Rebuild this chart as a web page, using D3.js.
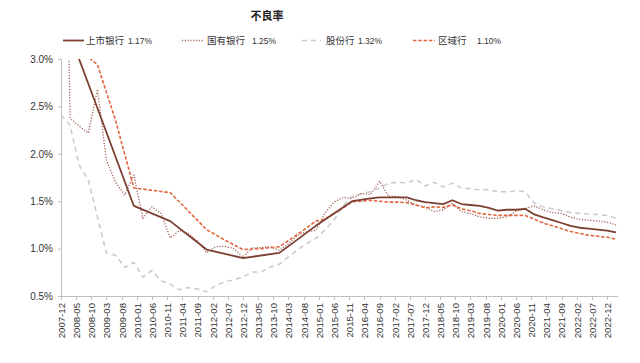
<!DOCTYPE html>
<html>
<head>
<meta charset="utf-8">
<script src="https://cdn.jsdelivr.net/npm/d3@7/dist/d3.min.js"></script>
<style>
  body { margin: 0; background: #fff; }
  svg { display: block; font-family: "Liberation Sans", Arial, "Noto Sans CJK SC", sans-serif; }
</style>
</head>
<body>
<svg id="chart" width="640" height="363"></svg>
<script>
// 不良率 (%) by quarter
var listedBanks = [
  ['2007-12', 3.51], ['2008-12', 2.48], ['2009-12', 1.45], ['2010-12', 1.29], ['2011-12', 0.99],
  ['2012-12', 0.90], ['2013-12', 0.955], ['2014-12', 1.24], ['2015-12', 1.50], ['2016-06', 1.53],
  ['2016-09', 1.54], ['2016-12', 1.54], ['2017-03', 1.54], ['2017-06', 1.54], ['2017-09', 1.51],
  ['2017-12', 1.49], ['2018-03', 1.48], ['2018-06', 1.47], ['2018-09', 1.51], ['2018-12', 1.47],
  ['2019-03', 1.46], ['2019-06', 1.45], ['2019-09', 1.43], ['2019-12', 1.40], ['2020-03', 1.41],
  ['2020-06', 1.41], ['2020-09', 1.42], ['2020-12', 1.36], ['2021-03', 1.33], ['2021-06', 1.30],
  ['2021-09', 1.27], ['2021-12', 1.24], ['2022-03', 1.22], ['2022-06', 1.21], ['2022-09', 1.20],
  ['2022-12', 1.19], ['2023-03', 1.17]
];

var stateBanks = [
  ['2007-12', 8.0], ['2008-03', 2.375], ['2008-06', 2.29], ['2008-09', 2.22], ['2008-12', 2.68],
  ['2009-03', 1.93], ['2009-06', 1.70], ['2009-09', 1.565], ['2009-12', 1.776], ['2010-03', 1.32],
  ['2010-06', 1.44], ['2010-09', 1.37], ['2010-12', 1.113], ['2011-03', 1.19], ['2011-06', 1.16],
  ['2011-09', 1.08], ['2011-12', 0.955], ['2012-03', 1.02], ['2012-06', 1.025], ['2012-09', 1.00],
  ['2012-12', 0.91], ['2013-03', 1.007], ['2013-06', 1.01], ['2013-09', 1.02], ['2013-12', 0.98],
  ['2014-03', 1.05], ['2014-06', 1.14], ['2014-09', 1.18], ['2014-12', 1.19], ['2015-03', 1.37],
  ['2015-06', 1.49], ['2015-09', 1.54], ['2015-12', 1.53], ['2016-03', 1.58], ['2016-06', 1.57],
  ['2016-09', 1.71], ['2016-12', 1.55], ['2017-03', 1.55], ['2017-06', 1.51], ['2017-09', 1.46],
  ['2017-12', 1.44], ['2018-03', 1.39], ['2018-06', 1.41], ['2018-09', 1.48], ['2018-12', 1.39],
  ['2019-03', 1.37], ['2019-06', 1.335], ['2019-09', 1.32], ['2019-12', 1.32], ['2020-03', 1.335],
  ['2020-06', 1.395], ['2020-09', 1.424], ['2020-12', 1.45], ['2021-03', 1.41], ['2021-06', 1.38],
  ['2021-09', 1.37], ['2021-12', 1.33], ['2022-03', 1.31], ['2022-06', 1.30], ['2022-09', 1.29],
  ['2022-12', 1.28], ['2023-03', 1.25]
];

var jointStockBanks = [
  ['2007-12', 2.41], ['2008-03', 2.30], ['2008-06', 1.88], ['2008-09', 1.72], ['2008-12', 1.335],
  ['2009-03', 0.95], ['2009-06', 0.93], ['2009-09', 0.80], ['2009-12', 0.855], ['2010-03', 0.70],
  ['2010-06', 0.77], ['2010-09', 0.66], ['2010-12', 0.625], ['2011-03', 0.565], ['2011-06', 0.59],
  ['2011-09', 0.575], ['2011-12', 0.545], ['2012-03', 0.613], ['2012-06', 0.648], ['2012-09', 0.673],
  ['2012-12', 0.70], ['2013-03', 0.754], ['2013-06', 0.754], ['2013-09', 0.806], ['2013-12', 0.835],
  ['2014-03', 0.912], ['2014-06', 0.99], ['2014-09', 1.054], ['2014-12', 1.107], ['2015-03', 1.195],
  ['2015-06', 1.30], ['2015-09', 1.45], ['2015-12', 1.55], ['2016-03', 1.58], ['2016-06', 1.60],
  ['2016-09', 1.64], ['2016-12', 1.69], ['2017-03', 1.70], ['2017-06', 1.69], ['2017-09', 1.73],
  ['2017-12', 1.66], ['2018-03', 1.70], ['2018-06', 1.65], ['2018-09', 1.69], ['2018-12', 1.64],
  ['2019-03', 1.63], ['2019-06', 1.62], ['2019-09', 1.62], ['2019-12', 1.60], ['2020-03', 1.60],
  ['2020-06', 1.61], ['2020-09', 1.60], ['2020-12', 1.48], ['2021-03', 1.44], ['2021-06', 1.42],
  ['2021-09', 1.40], ['2021-12', 1.38], ['2022-03', 1.37], ['2022-06', 1.365], ['2022-09', 1.36],
  ['2022-12', 1.35], ['2023-03', 1.32]
];

var regionalBanks = [
  ['2007-12', 3.26], ['2008-12', 2.94], ['2009-06', 2.35], ['2009-12', 1.64], ['2010-12', 1.59],
  ['2011-12', 1.20], ['2012-06', 1.09], ['2012-12', 0.99], ['2013-06', 1.00], ['2013-12', 1.02],
  ['2014-06', 1.15], ['2014-12', 1.29], ['2015-03', 1.31], ['2015-06', 1.37], ['2015-09', 1.43],
  ['2015-12', 1.494], ['2016-03', 1.50], ['2016-06', 1.51], ['2016-09', 1.50], ['2016-12', 1.49],
  ['2017-03', 1.49], ['2017-06', 1.485], ['2017-09', 1.46], ['2017-12', 1.43], ['2018-03', 1.44],
  ['2018-06', 1.435], ['2018-09', 1.46], ['2018-12', 1.42], ['2019-03', 1.40], ['2019-06', 1.37],
  ['2019-09', 1.36], ['2019-12', 1.35], ['2020-03', 1.35], ['2020-06', 1.35], ['2020-09', 1.35],
  ['2020-12', 1.31], ['2021-03', 1.27], ['2021-06', 1.24], ['2021-09', 1.21], ['2021-12', 1.18],
  ['2022-03', 1.16], ['2022-06', 1.14], ['2022-09', 1.13], ['2022-12', 1.12], ['2023-03', 1.10]
];

var seriesNames = ['上市银行', '国有银行', '股份行', '区域行'];
var latestValues = ['1.17%', '1.25%', '1.32%', '1.10%'];
var yTicks = [0.5, 1.0, 1.5, 2.0, 2.5, 3.0];
var xTickLabels = [
  '2007-12', '2008-05', '2008-10', '2009-03', '2009-08', '2010-01', '2010-06', '2010-11',
  '2011-04', '2011-09', '2012-02', '2012-07', '2012-12', '2013-05', '2013-10', '2014-03',
  '2014-08', '2015-01', '2015-06', '2015-11', '2016-04', '2016-09', '2017-02', '2017-07',
  '2017-12', '2018-05', '2018-10', '2019-03', '2019-08', '2020-01', '2020-06', '2020-11',
  '2021-04', '2021-09', '2022-02', '2022-07', '2022-12'
];

var parse = d3.timeParse('%Y-%m');

var styles = [
  { color: '#7e3f33', width: 1.8, dash: null },
  { color: '#a5645a', width: 1.3, dash: '1.2,1.6' },
  { color: '#c9c9c9', width: 1.5, dash: '5,4' },
  { color: '#e2663f', width: 1.6, dash: '3.5,1.8' }
];

var allSeries = [listedBanks, stateBanks, jointStockBanks, regionalBanks];

var svg = d3.select('#chart');
svg.append('rect').attr('width', 640).attr('height', 363).attr('fill', '#fff');

var x = d3.scaleTime()
  .domain([parse('2007-12'), parse('2023-03')])
  .range([61, 616]);
var y = d3.scaleLinear().domain([0.5, 3.0]).range([296, 59]);

// title
svg.append('text')
  .attr('x', 267).attr('y', 20)
  .attr('text-anchor', 'middle')
  .style('font-size', '11px').style('font-weight', 'bold').style('fill', '#222')
  .text('不良率');

// legend
var legendPos = [
  { x1: 63, x2: 84, label: 86, value: 128 },
  { x1: 182, x2: 203, label: 207, value: 252 },
  { x1: 302, x2: 321, label: 326, value: 358 },
  { x1: 413, x2: 435, label: 438, value: 477 }
];
var legend = svg.append('g').attr('class', 'legend');
legendPos.forEach(function (p, i) {
  legend.append('line')
    .attr('x1', p.x1).attr('x2', p.x2).attr('y1', 40.5).attr('y2', 40.5)
    .attr('stroke', styles[i].color)
    .attr('stroke-width', styles[i].width)
    .attr('stroke-dasharray', styles[i].dash);
  legend.append('text')
    .attr('x', p.label).attr('y', 44)
    .style('font-size', '9.5px').style('fill', '#333')
    .text(seriesNames[i]);
  legend.append('text')
    .attr('x', p.value).attr('y', 44)
    .style('font-size', '8.5px').style('fill', '#333')
    .text(latestValues[i]);
});

// y axis
var yAxis = svg.append('g')
  .attr('transform', 'translate(61,0)')
  .call(d3.axisLeft(y).tickValues(yTicks).tickSize(3).tickPadding(5)
    .tickFormat(function (d) { return d.toFixed(1) + '%'; }));
yAxis.select('.domain').attr('stroke', '#bfbfbf');
yAxis.selectAll('.tick line').attr('stroke', '#bfbfbf');
yAxis.selectAll('.tick text')
  .style('font-size', '10px').style('fill', '#333')
  .style('font-family', '"Liberation Sans", Arial, sans-serif');

// x axis
var xTickDates = xTickLabels.map(parse);
var xAxisG = svg.append('g').attr('transform', 'translate(0,296)');
xAxisG.append('line')
  .attr('x1', 61).attr('x2', 618).attr('y1', 0.5).attr('y2', 0.5)
  .attr('stroke', '#bfbfbf');
xAxisG.selectAll('.xtick').data(xTickDates).enter().append('line')
  .attr('class', 'xtick')
  .attr('x1', function (d) { return Math.round(x(d)) + 0.5; })
  .attr('x2', function (d) { return Math.round(x(d)) + 0.5; })
  .attr('y1', 0).attr('y2', 4)
  .attr('stroke', '#bfbfbf');
xAxisG.selectAll('.xlabel').data(xTickDates).enter().append('text')
  .attr('class', 'xlabel')
  .attr('transform', function (d) { return 'translate(' + (x(d) + 0.5) + ',7) rotate(-90)'; })
  .attr('text-anchor', 'end')
  .attr('dy', '0.35em')
  .style('font-size', '9.6px').style('fill', '#333')
  .text(function (d, i) { return xTickLabels[i]; });

// lines
svg.append('clipPath').attr('id', 'plotclip')
  .append('rect').attr('x', 61).attr('y', 59).attr('width', 560).attr('height', 238);

var line = d3.line()
  .x(function (d) { return x(parse(d[0])); })
  .y(function (d) { return y(d[1]); });

// draw back to front: grey, dotted, regional, listed on top
var order = [2, 1, 3, 0];
var plot = svg.append('g').attr('clip-path', 'url(#plotclip)');
order.forEach(function (i) {
  plot.append('path')
    .datum(allSeries[i])
    .attr('d', line)
    .attr('fill', 'none')
    .attr('stroke', styles[i].color)
    .attr('stroke-width', styles[i].width)
    .attr('stroke-dasharray', styles[i].dash)
    .attr('stroke-linejoin', 'round');
});
</script>
</body>
</html>
